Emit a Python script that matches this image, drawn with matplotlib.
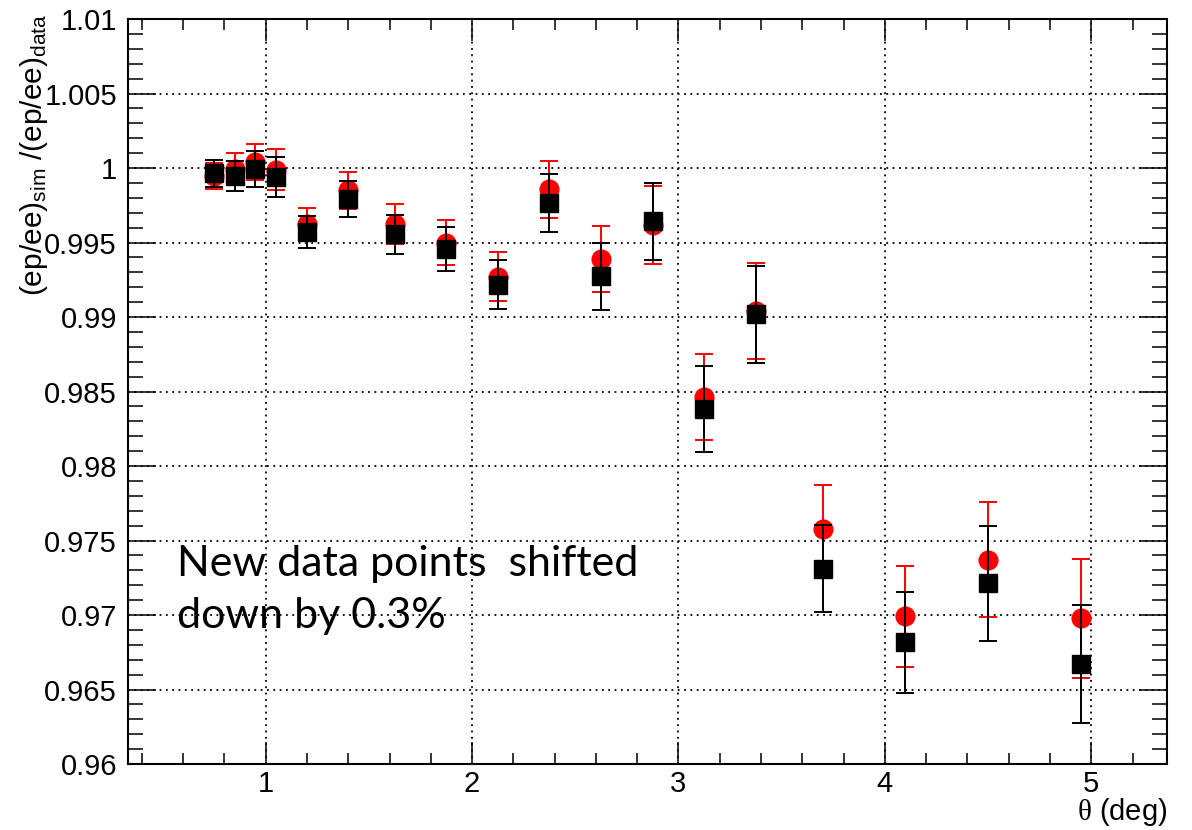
import numpy as np
import matplotlib
matplotlib.use("Agg")
import matplotlib.pyplot as plt
from matplotlib.ticker import MultipleLocator, FuncFormatter

plt.rcParams['font.family'] = ['Liberation Sans', 'DejaVu Sans']
plt.rcParams['mathtext.fontset'] = 'custom'
plt.rcParams['mathtext.rm'] = 'Liberation Serif'
plt.rcParams['mathtext.sf'] = 'Liberation Sans'
plt.rcParams['mathtext.it'] = 'Liberation Serif:italic'

# bin centres in theta (deg)
theta = [0.75, 0.85, 0.95, 1.05, 1.2, 1.4, 1.625, 1.875, 2.125, 2.375,
         2.625, 2.875, 3.125, 3.375, 3.7, 4.1, 4.5, 4.95]

# old data points (red circles)
ratio_old = [0.99946, 0.99993, 1.00040, 0.99989, 0.99622, 0.99850, 0.99622, 0.99499, 0.99270,
             0.99856, 0.99391, 0.99617, 0.98463, 0.99040, 0.97577, 0.96992, 0.97372, 0.96977]
err_old = [0.00089, 0.00107, 0.00121, 0.00136, 0.00111, 0.00125, 0.00134, 0.00151, 0.00163,
           0.00193, 0.00223, 0.00263, 0.00289, 0.00324, 0.00295, 0.00339, 0.00384, 0.00397]

# new data points (black squares)
ratio_new = [0.99964, 0.99948, 0.99991, 0.99940, 0.99572, 0.99792, 0.99554, 0.99458, 0.99218,
             0.99766, 0.99274, 0.99642, 0.98384, 0.99018, 0.97311, 0.96817, 0.97213, 0.96672]
err_new = [0.00089, 0.00101, 0.00121, 0.00134, 0.00106, 0.00123, 0.00131, 0.00148, 0.00164,
           0.00193, 0.00225, 0.00260, 0.00287, 0.00324, 0.00293, 0.00338, 0.00385, 0.00395]

W, H = 1192, 830
fig = plt.figure(figsize=(W / 100, H / 100), dpi=100)
ax = fig.add_axes([128 / W, 1 - 764 / H, (1167 - 128) / W, (764 - 19) / H])

ax.errorbar(theta, ratio_old, yerr=err_old, fmt='o', color='#ff0000', ms=13.5,
            elinewidth=1.4, capsize=6.8, capthick=1.4, zorder=3)
ax.errorbar(theta, ratio_new, yerr=err_new, fmt='s', color='black', ms=13.5,
            elinewidth=1.4, capsize=6.8, capthick=1.4, zorder=4)

ax.set_xlim(0.333, 5.367)
ax.set_ylim(0.96, 1.01)
ax.xaxis.set_major_locator(MultipleLocator(1))
ax.xaxis.set_minor_locator(MultipleLocator(0.2))
ax.yaxis.set_major_locator(MultipleLocator(0.005))
ax.yaxis.set_minor_locator(MultipleLocator(0.001))
ax.yaxis.set_major_formatter(FuncFormatter(lambda v, p: '%g' % round(v, 4)))

ax.grid(True, which='major', color='black', linestyle=(0, (1, 2.5)), linewidth=1.3)
ax.set_axisbelow(True)

ax.tick_params(axis='both', which='both', direction='in', top=True, right=True,
               labelsize=21, width=1.1, colors='black')
ax.tick_params(axis='y', which='major', length=20, pad=8)
ax.tick_params(axis='y', which='minor', length=10.5)
ax.tick_params(axis='x', which='major', length=16, pad=4)
ax.tick_params(axis='x', which='minor', length=8)
for s in ax.spines.values():
    s.set_linewidth(1.5)

fig.text(50 / W, 1 - 14 / H,
         r'(ep/ee)$_{\mathsf{sim}}$ /(ep/ee)$_{\mathsf{data}}$',
         rotation=90, ha='right', va='top', fontsize=21.5)
fig.text(1167 / W, 1 - 828 / H, r'$\mathrm{\theta}$ (deg)', ha='right', va='bottom',
         fontsize=21)

# note placed 177 px from the left edge of the figure
x_note = 0.333 + (177 - 128) / (1167 - 128) * (5.367 - 0.333)
ax.text(x_note, 0.96911, 'New data points  shifted\ndown by 0.3%',
        fontsize=31, family=['Lato', 'DejaVu Sans'], ha='left', va='baseline',
        linespacing=1.47)

fig.savefig('out.png', dpi=100)
